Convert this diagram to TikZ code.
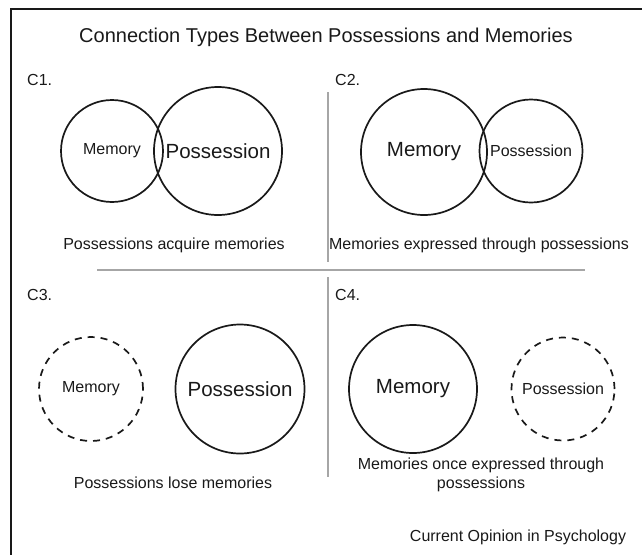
\documentclass[tikz,border=0pt]{standalone}
\usepackage{fontspec}
\setmainfont{Liberation Sans}
\begin{document}
\begin{tikzpicture}[x=1pt,y=-1pt,
  txt/.style={font=\fontsize{16}{19}\selectfont, inner sep=0pt, text=black!90},
  bigtxt/.style={font=\fontsize{20.5}{24}\selectfont, inner sep=0pt, text=black!90},
  ring/.style={circle, draw=black!90, line width=1.7pt, inner sep=0pt, minimum size=#1},
  dring/.style={circle, draw=black!90, line width=1.7pt, dash pattern=on 7pt off 6pt, inner sep=0pt, minimum size=#1},
  divider/.style={draw=black!35, line width=1.2pt},
  frame/.style={draw=black!90, line width=1.5pt}]
\useasboundingbox (0,0) rectangle (642,555);
% frame
\coordinate (ftl) at (11,9);
\coordinate (ftr) at (642,9);
\coordinate (fbl) at (11,555);
\draw[frame] (ftr) -- (ftl) -- (fbl);
% title
\node[font=\fontsize{20}{24}\selectfont, inner sep=0pt, anchor=base, text=black!90] (title) at (326,42) {Connection Types Between Possessions and Memories};
% panel labels
\node[txt, anchor=base west] (c1) at (27,85) {C1.};
\node[txt, anchor=base west] (c2) at (335,85) {C2.};
\node[txt, anchor=base west] (c3) at (27,300) {C3.};
\node[txt, anchor=base west] (c4) at (335,300) {C4.};
% dividers
\coordinate (vt1) at (328,92);
\coordinate (vb1) at (328,262);
\coordinate (vt2) at (328,277);
\coordinate (vb2) at (328,477);
\coordinate (hl) at (97,270);
\coordinate (hr) at (585,270);
\draw[divider] (vt1) -- (vb1);
\draw[divider] (vt2) -- (vb2);
\draw[divider] (hl) -- (hr);
% C1
\node[ring=102pt, txt] (mem1) at (112,151) {Memory};
\node[ring=128pt, bigtxt] (pos1) at (218,151) {Possession};
\node[txt, anchor=base] (lab1) at (174,249) {Possessions acquire memories};
% C2
\node[ring=126pt, bigtxt] (mem2) at (424,152) {Memory};
\node[ring=103pt, txt] (pos2) at (531,151) {Possession};
\node[txt, anchor=base] (lab2) at (479,249) {Memories expressed through possessions};
% C3
\node[dring=104pt, txt] (mem3) at (91,389) {Memory};
\node[ring=129pt, bigtxt] (pos3) at (240,389) {Possession};
\node[txt, anchor=base] (lab3) at (173,488) {Possessions lose memories};
% C4
\node[ring=128pt, bigtxt] (mem4) at (413,389) {Memory};
\node[dring=103pt, txt] (pos4) at (563,389) {Possession};
\node[txt, anchor=base, align=center] (lab4) at (481,488) {Memories once expressed through\\possessions};
% credit
\node[txt, anchor=base] (credit) at (518,541) {Current Opinion in Psychology};
\end{tikzpicture}
\end{document}
